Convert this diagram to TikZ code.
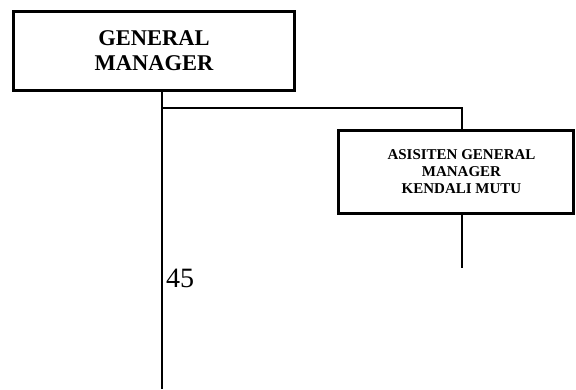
\documentclass[tikz,border=0pt]{standalone}
\usepackage{fontspec}
\setmainfont{Liberation Serif}
\begin{document}
\begin{tikzpicture}[x=1pt,y=-1pt,
  orgbox/.style={draw=black,line width=3pt,fill=white,align=center,inner sep=0pt,font=\bfseries},
  conn/.style={draw=black,line width=1.5pt}]
\useasboundingbox (0,0) rectangle (576,389);
\node[orgbox,minimum width=281pt,minimum height=79pt,font=\bfseries\fontsize{22.5}{25}\selectfont] (gm) at (154,51) {GENERAL\\MANAGER};
\node[orgbox,minimum width=235pt,minimum height=83pt,font=\bfseries\fontsize{15}{17}\selectfont] (asg) at (456,172) {\hspace*{11pt}ASISITEN GENERAL\\\hspace*{11pt}MANAGER\\\hspace*{11pt}KENDALI MUTU};
\coordinate (j) at (162,108);
\coordinate (tap) at (462,108);
\coordinate (bot) at (162,389);
\coordinate (aend) at (462,268);
\draw[conn] (gm.south -| j) -- (bot);
\draw[conn] (j) -- (tap) -- (tap |- asg.north);
\draw[conn] (tap |- asg.south) -- (aend);
\node[anchor=base west,inner sep=0pt,font=\fontsize{28}{30}\selectfont] (num) at (166,287) {45};
\end{tikzpicture}
\end{document}
